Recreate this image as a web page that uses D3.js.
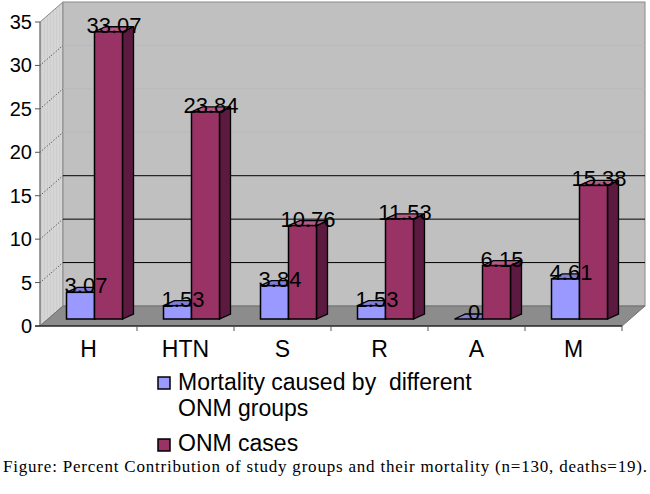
<!DOCTYPE html>
<html>
<head>
<meta charset="utf-8">
<script src="https://cdn.jsdelivr.net/npm/d3@7"></script>
<style>
  body { margin: 0; background: #fff; }
  svg { display: block; }
  text { font-family: Arial, "Liberation Sans", sans-serif; }
  text.caption { font-family: "Liberation Serif", "Times New Roman", serif; }
</style>
</head>
<body>
<div id="chart"></div>
<script>
var categories = ["H", "HTN", "S", "R", "A", "M"];
var mortality = [3.07, 1.53, 3.84, 1.53, 0, 4.61];
var onmCases = [33.07, 23.84, 10.76, 11.53, 6.15, 15.38];
var yTicks = [0, 5, 10, 15, 20, 25, 30, 35];
var seriesNames = ["Mortality caused by  different", "ONM cases"];

var width = 650, height = 494;

var svg = d3.select("#chart").append("svg")
  .attr("width", width)
  .attr("height", height);

// front plane scales
var x = d3.scaleBand().domain(categories).range([40, 622]);
var y = d3.scaleLinear().domain([0, 35]).range([326, 22]);

// 3d offsets
var wallDx = 23, wallDy = -20;     // depth of the walls / floor
var barDx = 6, barDy = -7;         // where the bars sit in depth
var depthDx = 11, depthDy = -5;    // thickness of each bar
var barW = 28;

var series = d3.scaleBand().domain([0, 1]).range([0, barW * 2]);
var fronts = ["#9999ff", "#993366"];
var tops = ["#7f7fd6", "#b35a8a"];
var sides = ["#6666cc", "#5c1a40"];

function pts(arr) {
  return arr.map(function (p) { return p.join(","); }).join(" ");
}

var x0 = x.range()[0], x1 = x.range()[1];
var yb = y(0), yt = y(35);

// left wall
svg.append("polygon")
  .attr("points", pts([[x0, yt], [x0 + wallDx, yt + wallDy], [x0 + wallDx, yb + wallDy], [x0, yb]]))
  .attr("fill", "#cdcdcd")
  .attr("stroke", "#8a8a8a");

// stripes on left wall
d3.range(x0 + 3, x0 + wallDx, 3).forEach(function (sx) {
  var f = (sx - x0) / wallDx;
  svg.append("line")
    .attr("x1", sx).attr("x2", sx)
    .attr("y1", yt + wallDy * f + 1).attr("y2", yb + wallDy * f - 1)
    .attr("stroke", "#dedede")
    .attr("stroke-width", 1);
});

// back wall
svg.append("rect")
  .attr("x", x0 + wallDx)
  .attr("y", yt + wallDy)
  .attr("width", x1 - x0)
  .attr("height", yb - yt)
  .attr("fill", "#c0c0c0")
  .attr("stroke", "#8a8a8a");

// floor
svg.append("polygon")
  .attr("points", pts([[x0, yb], [x1, yb], [x1 + wallDx, yb + wallDy], [x0 + wallDx, yb + wallDy]]))
  .attr("fill", "#8c8c8c")
  .attr("stroke", "#707070");

// gridlines on back wall + dotted lines on the left wall
yTicks.filter(function (t) { return t > 0 && t < 35; }).forEach(function (t) {
  svg.append("line")
    .attr("x1", x0 + wallDx).attr("x2", x1 + wallDx)
    .attr("y1", y(t) + wallDy).attr("y2", y(t) + wallDy)
    .attr("stroke", t <= 15 ? "#000" : "#b9b9b9")
    .attr("stroke-width", 1);
  svg.append("line")
    .attr("x1", x0).attr("x2", x0 + wallDx)
    .attr("y1", y(t)).attr("y2", y(t) + wallDy)
    .attr("stroke", "#333")
    .attr("stroke-dasharray", "1,2");
});

// y axis
svg.append("line")
  .attr("x1", x0).attr("x2", x0)
  .attr("y1", yt).attr("y2", yb)
  .attr("stroke", "#777");

var yAxis = svg.append("g").attr("class", "y axis");
yAxis.selectAll("line").data(yTicks).enter().append("line")
  .attr("x1", x0 - 5).attr("x2", x0)
  .attr("y1", function (d) { return y(d); })
  .attr("y2", function (d) { return y(d); })
  .attr("stroke", "#555");
yAxis.selectAll("text").data(yTicks).enter().append("text")
  .attr("x", x0 - 8)
  .attr("y", function (d) { return y(d) + 7; })
  .attr("text-anchor", "end")
  .attr("font-size", 20)
  .text(function (d) { return d; });

// x axis
svg.append("line")
  .attr("x1", x0 - 5).attr("x2", x1)
  .attr("y1", yb).attr("y2", yb)
  .attr("stroke", "#000")
  .attr("stroke-width", 1.2);

var xAxis = svg.append("g").attr("class", "x axis");
xAxis.selectAll("line").data(categories.slice(1).concat([null])).enter().append("line")
  .attr("x1", function (d) { return d === null ? x1 : x(d); })
  .attr("x2", function (d) { return d === null ? x1 : x(d); })
  .attr("y1", yb).attr("y2", yb + 5)
  .attr("stroke", "#555");
xAxis.selectAll("text").data(categories).enter().append("text")
  .attr("x", function (d) { return x(d) + x.bandwidth() / 2; })
  .attr("y", 357)
  .attr("text-anchor", "middle")
  .attr("font-size", 23)
  .text(function (d) { return d; });

// bars
var values = [mortality, onmCases];
var bars = [];
categories.forEach(function (c, i) {
  [0, 1].forEach(function (s) {
    var bx = x(c) + x.bandwidth() / 2 - barW + barDx + series(s);
    bars.push({
      s: s,
      v: values[s][i],
      x: bx,
      yTop: y(values[s][i]) + barDy,
      yBot: y(0) + barDy
    });
  });
});

var barG = svg.append("g").attr("class", "bars");
bars.forEach(function (b) {
  var g = barG.append("g");
  // side
  g.append("polygon")
    .attr("points", pts([[b.x + barW, b.yTop], [b.x + barW + depthDx, b.yTop + depthDy],
      [b.x + barW + depthDx, b.yBot + depthDy], [b.x + barW, b.yBot]]))
    .attr("fill", sides[b.s])
    .attr("stroke", "#000")
    .attr("stroke-width", 1.3);
  // top
  g.append("polygon")
    .attr("points", pts([[b.x, b.yTop], [b.x + depthDx, b.yTop + depthDy],
      [b.x + barW + depthDx, b.yTop + depthDy], [b.x + barW, b.yTop]]))
    .attr("fill", tops[b.s])
    .attr("stroke", "#000")
    .attr("stroke-width", 1.3);
  // front
  g.append("rect")
    .attr("x", b.x)
    .attr("y", b.yTop)
    .attr("width", barW)
    .attr("height", b.yBot - b.yTop)
    .attr("fill", fronts[b.s])
    .attr("stroke", "#000")
    .attr("stroke-width", 1.5);
});

// data labels
svg.append("g").selectAll("text").data(bars).enter().append("text")
  .attr("x", function (d) { return d.x + barW / 2 + depthDx / 2; })
  .attr("y", function (d) { return d.yTop + 1; })
  .attr("text-anchor", "middle")
  .attr("font-size", 22)
  .text(function (d) { return d.v; });

// legend
var legend = svg.append("g").attr("class", "legend");
var legendRows = [
  { s: 0, y: 377, base: 390, lines: [seriesNames[0], "ONM groups"] },
  { s: 1, y: 439, base: 451, lines: [seriesNames[1]] }
];
legendRows.forEach(function (r) {
  legend.append("rect")
    .attr("x", 158).attr("y", r.y)
    .attr("width", 12).attr("height", 12)
    .attr("fill", fronts[r.s])
    .attr("stroke", "#000")
    .attr("stroke-width", 1.5);
  r.lines.forEach(function (l, k) {
    legend.append("text")
      .attr("x", 178)
      .attr("y", r.base + k * 26)
      .attr("font-size", 23)
      .style("white-space", "pre")
      .text(l);
  });
});

// caption
svg.append("text")
  .attr("class", "caption")
  .attr("x", 3)
  .attr("y", 472)
  .attr("font-size", 17)
  .attr("textLength", 644)
  .attr("lengthAdjust", "spacing")
  .text("Figure: Percent Contribution of study groups and their mortality (n=130, deaths=19).");
</script>
</body>
</html>
